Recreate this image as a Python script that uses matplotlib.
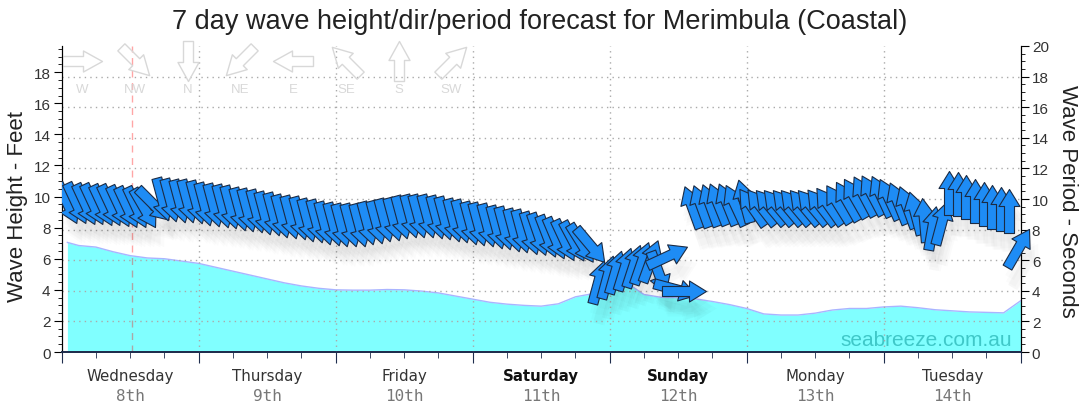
import numpy as np
import matplotlib.pyplot as plt
from matplotlib.path import Path
from matplotlib.markers import MarkerStyle
from matplotlib.ticker import MultipleLocator
from matplotlib.transforms import (Affine2D, Bbox, TransformedBbox,
                                   blended_transform_factory, offset_copy)

plt.rcParams['font.family'] = ['Liberation Sans', 'DejaVu Sans']

# ---- data ----
days = ['Wednesday', 'Thursday', 'Friday', 'Saturday', 'Sunday', 'Monday', 'Tuesday']
dates = ['8th', '9th', '10th', '11th', '12th', '13th', '14th']
weekend = ['Saturday', 'Sunday']

# wave height (feet), hours from Wed 00:00
height_hours = [1, 3, 6, 9, 12, 15, 18, 21, 24, 27, 30, 33, 36, 39, 42, 45, 48, 51, 54,
                57, 60, 63, 66, 69, 72, 75, 78, 81, 84, 87, 90, 93, 96, 99, 102, 105, 108,
                111, 114, 117, 120, 123, 126, 129, 132, 135, 138, 141, 144, 147, 150, 153,
                156, 159, 162, 165, 168]
height_ft = [7.05, 6.85, 6.75, 6.45, 6.2, 6.05, 6.0, 5.85, 5.7, 5.45, 5.2, 4.95, 4.7, 4.45,
             4.25, 4.1, 4.0, 3.98, 3.98, 4.02, 4.0, 3.92, 3.8, 3.6, 3.4, 3.2, 3.08, 3.0, 2.95,
             3.1, 3.55, 3.75, 4.2, 4.45, 3.7, 3.52, 3.5, 3.42, 3.25, 3.05, 2.8, 2.45, 2.38,
             2.38, 2.5, 2.7, 2.8, 2.8, 2.9, 2.95, 2.85, 2.72, 2.65, 2.58, 2.55, 2.52, 3.3]

# swell arrows every 1.5 h: period (s) and direction the swell comes from (deg)
arrow_hours = np.arange(1, 168, 1.5)
period_s = [9.75, 9.72, 9.7, 9.66, 9.62, 9.58, 9.54, 9.5, 9.45, 9.4, 9.7,
            10.0, 9.95, 9.9, 9.85, 9.78, 9.7, 9.62, 9.53, 9.45, 9.36, 9.28, 9.19,
            9.1, 9.01, 8.92, 8.83, 8.74, 8.64, 8.54, 8.44, 8.35, 8.28, 8.28, 8.32, 8.4,
            8.5, 8.6, 8.7, 8.8, 8.88, 8.92, 8.9, 8.82, 8.73, 8.63, 8.53, 8.44, 8.36,
            8.27, 8.18, 8.09, 7.99, 7.9, 7.8, 7.69, 7.58, 7.47, 7.35, 7.23, 7.1, 7.0,
            4.6, 4.9, 5.2, 5.45, 5.65, 5.85, 5.95, 5.2, 6.3, 4.1, 4.0,
            9.5, 9.55, 9.6, 9.65, 9.65, 9.6, 9.85, 9.5, 9.45, 9.45, 9.45, 9.45, 9.45,
            9.45, 9.45, 9.5, 9.55, 9.7, 9.9, 10.05, 10.2, 10.25, 10.2, 10.0, 9.75, 9.45,
            9.1, 8.6, 8.1, 8.4, 10.4, 10.3, 10.1, 9.9, 9.7, 9.5, 9.35, 9.2, 6.8]
direction_deg = [335, 335, 335, 335, 335, 335, 335, 335, 335, 330, 315,
                 345, 345, 345, 345, 345, 345, 345, 345, 345, 345, 345, 345, 345, 345,
                 345, 345, 345, 345, 345, 345, 345, 345, 345, 345, 345, 345, 345, 345,
                 345, 345, 345, 345, 345, 345, 345, 345, 345, 345, 345, 345, 345, 345,
                 345, 343, 341, 339, 337, 335, 332, 328, 320,
                 195, 195, 196, 197, 198, 199, 200, 340, 245, 285, 270,
                 160, 160, 160, 158, 158, 155, 165, 145, 142, 140, 140, 140, 140, 140,
                 140, 142, 145, 148, 150, 150, 152, 152, 155, 155, 158, 160, 165, 175,
                 190, 195, 180, 180, 180, 180, 180, 180, 180, 180, 210]

compass = ['W', 'NW', 'N', 'NE', 'E', 'SE', 'S', 'SW']
compass_deg = [270, 315, 0, 45, 90, 135, 180, 225]

now_hour = 12.25

# ---- figure ----
fig = plt.figure(figsize=(10.8, 4.14), dpi=100)
ax = fig.add_axes([0.0571, 0.1473, 0.888, 0.7392])
ax2 = ax.twinx()

ax.set_xlim(0, 168)
ax.set_ylim(0, 19.685)   # 6 m in feet
ax2.set_ylim(0, 20)

ax.fill_between(height_hours, height_ft, color='#80ffff', lw=0, zorder=1)
ax.plot(height_hours, height_ft, color='#aab4ff', lw=1, zorder=1.5)

ax.text((1012 - 61.7) / 959, 0.0425, 'seabreeze.com.au', transform=ax.transAxes,
        ha='right', va='center', fontsize=15, color='#3fc8c8', zorder=2)

# grid
for d in range(24, 168, 24):
    ax2.axvline(d, color='#aaaaaa', ls=(0, (1, 3)), lw=1, zorder=0.5)
for s in range(2, 20, 2):
    ax2.axhline(s, color='#aaaaaa', ls=(0, (1, 3)), lw=1, zorder=0.5)
ax2.axvline(now_hour, color='red', alpha=0.35, ls=(0, (5, 4)), lw=1, zorder=1)

# arrows (44 px long, centred on the point)
arrow_path = Path([(-22, -5), (5, -5), (5, -10.5), (22, 0), (5, 10.5), (5, 5),
                   (-22, 5), (-22, -5)], closed=True)
key_path = Path([(-20, -5), (1, -5), (1, -10.5), (20, 0), (1, 10.5), (1, 5),
                 (-20, 5), (-20, -5)], closed=True)
ms = 31.7
clip = TransformedBbox(Bbox([[0, -0.3], [1.1, 1.3]]), ax2.transAxes)
shadows = [(2, -10, 1.0), (4, -15, 1.08), (5, -20, 1.0), (7, -17, 1.15)]
for h, p, d in zip(arrow_hours, period_s, direction_deg):
    ang = -90 - d
    for dx, dy, sc in shadows:
        tr = offset_copy(ax2.transData, fig=fig, x=dx, y=dy, units='dots')
        sh, = ax2.plot(h, p, marker=MarkerStyle(arrow_path, transform=Affine2D().scale(sc).rotate_deg(ang)),
                       ms=ms, mfc='k', mec='none', alpha=0.016, transform=tr, zorder=3)
        sh.set_clip_box(clip)
    ln, = ax2.plot(h, p, marker=MarkerStyle(arrow_path, transform=Affine2D().rotate_deg(ang)),
                   ms=ms, mfc='#1e8cf5', mec='#1b2b44', mew=0.8, zorder=4)
    ln.set_clip_box(clip)

# compass key
for k, (name, d) in enumerate(zip(compass, compass_deg)):
    xa = (82 + 52.8 * k - 61.7) / 959
    ax2.plot(xa, 0.951, marker=MarkerStyle(key_path, transform=Affine2D().rotate_deg(-90 - d)),
             ms=28.8, mfc='none', mec='#d8d8d8', mew=1, transform=ax2.transAxes, zorder=2, clip_on=False)
    ax2.text(xa, 0.8595, name, transform=ax2.transAxes, ha='center', va='center',
             fontsize=9.5, color='#d8d8d8', zorder=2)

# axes styling
for a in (ax, ax2):
    a.spines['top'].set_visible(False)
    a.spines['bottom'].set_color('#1f2d4d')
    a.spines['bottom'].set_linewidth(1.3)
ax.yaxis.set_major_locator(MultipleLocator(2))
ax.yaxis.set_minor_locator(MultipleLocator(0.5))
ax2.yaxis.set_major_locator(MultipleLocator(2))
ax2.yaxis.set_minor_locator(MultipleLocator(0.5))
ax.xaxis.set_major_locator(MultipleLocator(24))
ax.xaxis.set_minor_locator(MultipleLocator(6))
ax.tick_params(axis='x', which='major', length=8, color='#1f2d4d', labelbottom=False)
ax.tick_params(axis='x', which='minor', length=4, color='#1f2d4d')
ax.tick_params(axis='y', which='major', length=6, labelsize=11, labelcolor='#333333', pad=2)
ax.tick_params(axis='y', which='minor', length=3)
ax2.tick_params(axis='y', which='major', length=6, labelsize=11, labelcolor='#333333', pad=2)
ax2.tick_params(axis='y', which='minor', length=3)

ax.set_ylim(0, 19.685)
ax.set_yticks(np.arange(0, 19, 2))

trans = blended_transform_factory(ax.transData, ax.transAxes)
for k, (day, date) in enumerate(zip(days, dates)):
    bold = day in weekend
    ax.text(12 + 24 * k, -0.0752, day, transform=trans, ha='center', va='center',
            fontsize=10.8, family='DejaVu Sans', fontweight='bold' if bold else 'normal',
            color='#111111' if bold else '#333333')
    ax.text(12 + 24 * k, -0.1405, date, transform=trans, ha='center', va='center',
            fontsize=11.5, family='DejaVu Sans Mono', color='#777777')

fig.text(0.5, 1 - 22 / 414, '7 day wave height/dir/period forecast for Merimbula (Coastal)',
         ha='center', va='center', fontsize=19.5, color='#222222')
fig.text(18 / 1080, 1 - 206 / 414, 'Wave Height - Feet', rotation=90,
         ha='center', va='center', fontsize=16, color='#222222')
fig.text(1068 / 1080, 1 - 201 / 414, 'Wave Period - Seconds', rotation=270,
         ha='center', va='center', fontsize=16, color='#222222')

fig.savefig('out.png', dpi=100)
